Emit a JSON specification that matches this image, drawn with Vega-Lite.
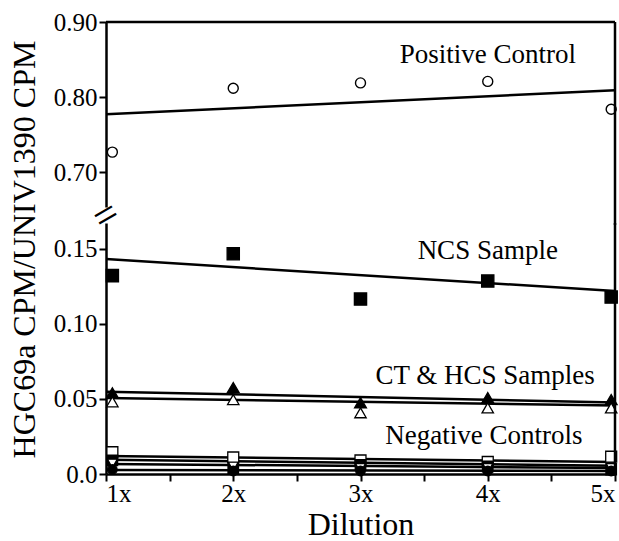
{
  "$schema": "https://vega.github.io/schema/vega-lite/v6.json",
  "padding": {"left": 7, "top": 10, "right": 2, "bottom": 3},
  "background": "white",
  "spacing": 16,
  "bounds": "flush",
  "config": {
    "font": "Liberation Serif",
    "view": {"stroke": null},
    "axis": {
      "grid": false,
      "domainColor": "black",
      "domainWidth": 2.5,
      "tickColor": "black",
      "tickWidth": 2,
      "tickSize": 7,
      "labelColor": "black",
      "labelFontSize": 25,
      "labelFont": "Liberation Serif",
      "titleFont": "Liberation Serif",
      "titleColor": "black",
      "titleFontWeight": "normal",
      "titleFontSize": 32,
      "labelPadding": 2
    },
    "text": {"font": "Liberation Serif"}
  },
  "datasets": {
    "posPoints": [
      {"dilution": 1.05, "ratio": 0.727},
      {"dilution": 2, "ratio": 0.812},
      {"dilution": 3, "ratio": 0.819},
      {"dilution": 4, "ratio": 0.821},
      {"dilution": 4.97, "ratio": 0.784}
    ],
    "posFit": [
      {"dilution": 1, "ratio": 0.7773},
      {"dilution": 5, "ratio": 0.8093}
    ],
    "points": [
      {"series": "NCS", "dilution": 1.05, "ratio": 0.132},
      {"series": "NCS", "dilution": 2, "ratio": 0.1465},
      {"series": "NCS", "dilution": 3, "ratio": 0.1164},
      {"series": "NCS", "dilution": 4, "ratio": 0.1284},
      {"series": "NCS", "dilution": 4.97, "ratio": 0.1177},
      {"series": "CT", "dilution": 1.05, "ratio": 0.054},
      {"series": "CT", "dilution": 2, "ratio": 0.0575},
      {"series": "CT", "dilution": 3, "ratio": 0.0474},
      {"series": "CT", "dilution": 4, "ratio": 0.0508},
      {"series": "CT", "dilution": 4.97, "ratio": 0.0495},
      {"series": "HCS", "dilution": 1.05, "ratio": 0.048},
      {"series": "HCS", "dilution": 2, "ratio": 0.0495},
      {"series": "HCS", "dilution": 3, "ratio": 0.0407},
      {"series": "HCS", "dilution": 4, "ratio": 0.044},
      {"series": "HCS", "dilution": 4.97, "ratio": 0.044},
      {"series": "NegA", "dilution": 1.05, "ratio": 0.0145},
      {"series": "NegA", "dilution": 2, "ratio": 0.011},
      {"series": "NegA", "dilution": 3, "ratio": 0.009},
      {"series": "NegA", "dilution": 4, "ratio": 0.008},
      {"series": "NegA", "dilution": 4.97, "ratio": 0.0115},
      {"series": "NegB", "dilution": 1.05, "ratio": 0.009},
      {"series": "NegB", "dilution": 2, "ratio": 0.004},
      {"series": "NegB", "dilution": 3, "ratio": 0.006},
      {"series": "NegB", "dilution": 4, "ratio": 0.005},
      {"series": "NegB", "dilution": 4.97, "ratio": 0.003},
      {"series": "NegC", "dilution": 1.05, "ratio": 0.007},
      {"series": "NegC", "dilution": 2, "ratio": 0.005},
      {"series": "NegC", "dilution": 3, "ratio": 0.004},
      {"series": "NegC", "dilution": 4, "ratio": 0.004},
      {"series": "NegC", "dilution": 4.97, "ratio": 0.004},
      {"series": "NegD", "dilution": 1.05, "ratio": 0.003},
      {"series": "NegD", "dilution": 2, "ratio": 0.002},
      {"series": "NegD", "dilution": 3, "ratio": 0.002},
      {"series": "NegD", "dilution": 4, "ratio": 0.002},
      {"series": "NegD", "dilution": 4.97, "ratio": 0.002}
    ],
    "fits": [
      {"series": "NCS", "dilution": 1, "ratio": 0.143},
      {"series": "NCS", "dilution": 5, "ratio": 0.1217},
      {"series": "CT", "dilution": 1, "ratio": 0.0548},
      {"series": "CT", "dilution": 5, "ratio": 0.0475},
      {"series": "HCS", "dilution": 1, "ratio": 0.0505},
      {"series": "HCS", "dilution": 5, "ratio": 0.0455},
      {"series": "NegA", "dilution": 1, "ratio": 0.012},
      {"series": "NegA", "dilution": 5, "ratio": 0.008},
      {"series": "NegB", "dilution": 1, "ratio": 0.0094},
      {"series": "NegB", "dilution": 5, "ratio": 0.0055},
      {"series": "NegC", "dilution": 1, "ratio": 0.0067},
      {"series": "NegC", "dilution": 5, "ratio": 0.004},
      {"series": "NegD", "dilution": 1, "ratio": 0.0027},
      {"series": "NegD", "dilution": 5, "ratio": 0.002}
    ],
    "topLabels": [
      {"label": "Positive Control", "dilution": 4, "ratio": 0.845}
    ],
    "bottomLabels": [
      {"label": "NCS Sample", "dilution": 4, "ratio": 0.143},
      {"label": "CT & HCS Samples", "dilution": 3.98, "ratio": 0.060},
      {"label": "Negative Controls", "dilution": 3.97, "ratio": 0.020}
    ]
  },
  "vconcat": [
    {
      "width": 509,
      "height": 185,
      "layer": [
        {
          "data": {"name": "posFit"},
          "mark": {"type": "line", "color": "black", "strokeWidth": 2.5},
          "encoding": {
            "x": {"field": "dilution", "type": "quantitative", "scale": {"domain": [1, 5], "nice": false, "zero": false}, "axis": null},
            "y": {"field": "ratio", "type": "quantitative", "scale": {"domain": [0.654, 0.9], "nice": false, "zero": false},
              "axis": {"values": [0.7, 0.8, 0.9], "format": ".2f", "title": null}}
          }
        },
        {
          "data": {"name": "posPoints"},
          "mark": {"type": "point", "shape": "circle", "filled": true, "fill": "white", "stroke": "black", "strokeWidth": 1.4, "size": 100, "opacity": 1},
          "encoding": {
            "x": {"field": "dilution", "type": "quantitative"},
            "y": {"field": "ratio", "type": "quantitative"}
          }
        },
        {
          "data": {"name": "topLabels"},
          "mark": {"type": "text", "fontSize": 27, "align": "center", "baseline": "alphabetic", "color": "black"},
          "encoding": {
            "x": {"field": "dilution", "type": "quantitative"},
            "y": {"field": "ratio", "type": "quantitative"},
            "text": {"field": "label"}
          }
        },
        {
          "data": {"values": [{}]},
          "mark": {"type": "rule", "color": "black", "strokeWidth": 2.5},
          "encoding": {"y": {"datum": 0.9, "type": "quantitative"}}
        },
        {
          "data": {"values": [{}]},
          "mark": {"type": "rule", "color": "black", "strokeWidth": 2.5, "clip": false},
          "encoding": {
            "x": {"datum": 5, "type": "quantitative"},
            "y": {"datum": 0.9, "type": "quantitative"},
            "y2": {"datum": 0.63}
          }
        }
      ]
    },
    {
      "width": 509,
      "height": 251,
      "layer": [
        {
          "data": {"name": "fits"},
          "mark": {"type": "line", "color": "black", "strokeWidth": 2.5},
          "encoding": {
            "x": {"field": "dilution", "type": "quantitative", "scale": {"domain": [1, 5], "nice": false, "zero": false},
              "axis": {"values": [1, 1.5, 2, 2.5, 3, 3.5, 4, 4.5, 5], "labelExpr": "datum.value % 1 == 0 ? datum.value + 'x' : ''", "title": "Dilution", "titlePadding": 3, "labelPadding": 0,
                "encode": {"ticks": {"update": {"y2": {"signal": "datum.value % 1 == 0 ? 8 : 4"}}}}}},
            "y": {"field": "ratio", "type": "quantitative", "scale": {"domain": [0, 0.167], "nice": false, "zero": false},
              "axis": {"values": [0, 0.05, 0.1, 0.15], "labelExpr": "datum.value == 0 ? '0.0' : format(datum.value, '.2f')", "title": "HGC69a CPM/UNIV1390 CPM", "titleAngle": -90, "titleX": -72, "titleY": 26, "titleAlign": "center", "titleBaseline": "alphabetic"}},
            "detail": {"field": "series"}
          }
        },
        {
          "data": {"name": "points"},
          "mark": {"type": "point", "filled": true, "stroke": "black", "strokeWidth": 1.3, "opacity": 1},
          "encoding": {
            "x": {"field": "dilution", "type": "quantitative"},
            "y": {"field": "ratio", "type": "quantitative"},
            "shape": {"field": "series", "type": "nominal", "legend": null,
              "scale": {"domain": ["NCS", "CT", "HCS", "NegA", "NegB", "NegC", "NegD"], "range": ["square", "triangle-up", "triangle-up", "square", "square", "triangle-down", "circle"]}},
            "fill": {"field": "series", "type": "nominal", "legend": null,
              "scale": {"domain": ["NCS", "CT", "HCS", "NegA", "NegB", "NegC", "NegD"], "range": ["black", "black", "white", "white", "black", "white", "black"]}},
            "size": {"field": "series", "type": "nominal", "legend": null,
              "scale": {"domain": ["NCS", "CT", "HCS", "NegA", "NegB", "NegC", "NegD"], "range": [150, 90, 80, 90, 90, 70, 60]}}
          }
        },
        {
          "data": {"name": "bottomLabels"},
          "mark": {"type": "text", "fontSize": 27, "align": "center", "baseline": "alphabetic", "color": "black"},
          "encoding": {
            "x": {"field": "dilution", "type": "quantitative"},
            "y": {"field": "ratio", "type": "quantitative"},
            "text": {"field": "label"}
          }
        },
        {
          "data": {"values": [{}]},
          "mark": {"type": "rule", "color": "black", "strokeWidth": 2.5, "clip": false},
          "encoding": {
            "x": {"datum": 5, "type": "quantitative"},
            "y": {"datum": 0, "type": "quantitative"},
            "y2": {"datum": 0.167}
          }
        },
        {
          "data": {"values": [{}]},
          "mark": {"type": "text", "text": "=", "fontSize": 42, "angle": -30, "align": "center", "baseline": "middle", "color": "black", "clip": false},
          "encoding": {
            "x": {"datum": 1, "type": "quantitative"},
            "y": {"datum": 0.1717, "type": "quantitative"}
          }
        }
      ]
    }
  ]
}
